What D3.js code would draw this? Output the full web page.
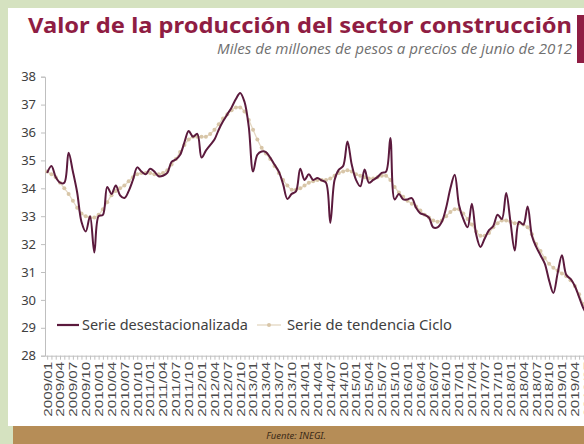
<!DOCTYPE html>
<html>
<head>
<meta charset="utf-8">
<script src="https://cdn.jsdelivr.net/npm/d3@7"></script>
<style>
  html, body { margin: 0; padding: 0; }
  body { width: 584px; height: 444px; overflow: hidden; background: #d5e2c0; }
  svg { display: block; font-family: "Noto Sans", "DejaVu Sans", sans-serif; }
</style>
</head>
<body>
<div id="chart"></div>
<script>
// ---- data (miles de millones de pesos, monthly from 2009/01) ----
const startYear = 2009;
const axisMonths = 130;   // months shown on the category axis (runs past the crop)

const serieDesest = [
  34.55, 34.8, 34.4, 34.2, 34.2, 35.27, 34.6, 33.85, 32.8, 32.45,
  33.0, 31.7, 33.0, 33.05, 34.05, 33.8, 34.1, 33.75, 33.65, 33.9,
  34.3, 34.75, 34.6, 34.5, 34.7, 34.6, 34.43, 34.45, 34.55, 34.95,
  35.03, 35.2, 35.65, 36.05, 35.85, 35.95, 35.1, 35.35, 35.55, 35.75,
  36.1, 36.4, 36.65, 36.9, 37.2, 37.42, 37.1, 36.2, 34.6, 35.2,
  35.32, 35.3, 35.1, 34.85, 34.6, 34.15, 33.62, 33.8, 33.89, 34.7,
  34.3, 34.5, 34.3, 34.37, 34.28, 34.2, 32.76, 34.3, 34.67, 34.8,
  35.68, 34.85, 34.3, 34.07, 34.67, 34.2, 34.3, 34.4, 34.55, 34.6,
  35.8, 33.6, 33.8, 33.6, 33.6, 33.65, 33.3, 33.1, 33.05, 32.95,
  32.6, 32.6, 32.8, 33.3, 34.0, 34.49, 33.4, 32.9, 32.6, 33.45,
  32.35, 31.9, 32.2, 32.5, 32.65, 33.05, 32.9, 33.83, 32.8, 31.77,
  32.8, 32.7, 33.35, 32.3, 31.9, 31.6, 31.3, 30.7, 30.25, 30.96,
  31.6, 30.9, 30.75, 30.5, 30.1, 29.7, 29.45
];

const serieTendencia = [
  34.6, 34.5, 34.4, 34.2, 34.0, 33.8, 33.55, 33.3, 33.1, 33.0,
  32.95, 32.95, 33.05, 33.25, 33.5, 33.75, 33.9, 34.0, 34.1, 34.25,
  34.4, 34.5, 34.55, 34.55, 34.55, 34.5, 34.5, 34.55, 34.65, 34.85,
  35.05, 35.3, 35.55, 35.75, 35.85, 35.85, 35.85, 35.85, 35.95, 36.1,
  36.3, 36.5, 36.65, 36.8, 36.9, 36.9, 36.75, 36.45, 36.1, 35.75,
  35.45, 35.25, 35.05, 34.8, 34.55, 34.3, 34.1, 33.95, 33.95, 34.0,
  34.1, 34.2, 34.25, 34.3, 34.3, 34.3, 34.35, 34.45, 34.55, 34.6,
  34.65, 34.6, 34.5, 34.45, 34.4, 34.35, 34.35, 34.4, 34.45, 34.45,
  34.3, 34.05, 33.85, 33.7, 33.55, 33.45, 33.35, 33.2, 33.05, 32.95,
  32.85, 32.8, 32.85, 33.0, 33.15, 33.25, 33.25, 33.1, 32.9, 32.7,
  32.45, 32.3, 32.3, 32.4, 32.6, 32.75, 32.85, 32.85, 32.8, 32.75,
  32.75, 32.7, 32.6, 32.35, 32.0, 31.75, 31.5, 31.3, 31.15, 31.05,
  30.95, 30.85, 30.7, 30.5, 30.2, 29.85, 29.55
];

const yTicks = [28, 29, 30, 31, 32, 33, 34, 35, 36, 37, 38];
const legendNames = ["Serie desestacionalizada", "Serie de tendencia Ciclo"];

const titleText = "Valor de la producción del sector construcción";
const subtitleText = "Miles de millones de pesos a precios de junio de 2012";
const sourceText = "Fuente: INEGI.";

// ---- setup ----
const width = 584, height = 444;
const colDark = "#5b1a3d";
const colTrend = "#d8c6a8";
const colTitle = "#8f1d43";

const monthLabel = i => {
  const y = startYear + Math.floor(i / 12);
  const m = (i % 12) + 1;
  return y + "/" + (m < 10 ? "0" + m : m);
};

const svg = d3.select("#chart").append("svg")
  .attr("width", width)
  .attr("height", height);

// panels
svg.append("rect").attr("x", 8).attr("y", 8).attr("width", width - 8).attr("height", 418)
  .attr("fill", "#ffffff");
svg.append("rect").attr("x", 13).attr("y", 426).attr("width", width - 13).attr("height", 18)
  .attr("fill", "#b68d57");
svg.append("text")
  .attr("x", 296).attr("y", 439)
  .attr("text-anchor", "middle")
  .style("font-size", "9.5px").style("font-style", "italic")
  .attr("fill", "#3b2a18")
  .text(sourceText);

// title block
svg.append("text")
  .attr("x", 28).attr("y", 33)
  .attr("textLength", 544).attr("lengthAdjust", "spacingAndGlyphs")
  .style("font-size", "21.5px").style("font-weight", "700")
  .attr("fill", colTitle)
  .text(titleText);

svg.append("text")
  .attr("x", 572).attr("y", 54)
  .attr("text-anchor", "end")
  .attr("textLength", 355).attr("lengthAdjust", "spacingAndGlyphs")
  .style("font-size", "14.5px").style("font-style", "italic")
  .style("font-family", "'Open Sans', sans-serif")
  .attr("fill", "#707070")
  .text(subtitleText);

svg.append("rect").attr("x", 577).attr("y", 15).attr("width", 8).attr("height", 48)
  .attr("fill", colTitle);

// scales
const step = 4.29;
const x = d3.scaleLinear()
  .domain([-0.5, axisMonths - 0.5])
  .range([45, 45 + step * axisMonths]);

const y = d3.scaleLinear()
  .domain([28, 38])
  .range([355.7, 76.7]);

// y axis
const yAxis = svg.append("g")
  .attr("transform", "translate(45,0)")
  .call(d3.axisLeft(y).tickValues(yTicks).tickSize(4).tickPadding(5));
yAxis.select(".domain").attr("stroke", "#bfbfbf");
yAxis.selectAll(".tick line").attr("stroke", "#bfbfbf");
yAxis.selectAll(".tick text")
  .style("font-size", "13px").attr("fill", "#404040")
  .style("font-family", "'Noto Sans', sans-serif");

// x axis: a tick every month, a label every quarter
const xAxis = svg.append("g")
  .attr("transform", "translate(0,355.7)")
  .call(d3.axisBottom(x)
    .tickValues(d3.range(axisMonths))
    .tickSize(4)
    .tickSizeOuter(0)
    .tickFormat(i => i % 3 === 0 ? monthLabel(i) : ""));
xAxis.select(".domain").attr("stroke", "#bfbfbf");
xAxis.selectAll(".tick line").attr("stroke", "#bfbfbf");
xAxis.selectAll(".tick text")
  .attr("text-anchor", "end")
  .attr("transform", "translate(0,6) rotate(-90)")
  .attr("x", 0).attr("y", 0).attr("dy", "0.35em")
  .style("font-size", "11px").attr("fill", "#4a4a4a")
  .each(function () {
    if (this.textContent) d3.select(this).attr("textLength", 55).attr("lengthAdjust", "spacingAndGlyphs");
  });

// lines
const line = d3.line()
  .x((d, i) => x(i))
  .y(d => y(d))
  .curve(d3.curveCatmullRom);

svg.append("path")
  .datum(serieTendencia)
  .attr("d", line)
  .attr("fill", "none")
  .attr("stroke", "#e4d7c2")
  .attr("stroke-width", 1.3);

svg.append("g").selectAll("circle")
  .data(serieTendencia)
  .join("circle")
  .attr("cx", (d, i) => x(i))
  .attr("cy", d => y(d))
  .attr("r", 2)
  .attr("fill", colTrend);

svg.append("path")
  .datum(serieDesest)
  .attr("d", line)
  .attr("fill", "none")
  .attr("stroke", colDark)
  .attr("stroke-width", 2)
  .attr("stroke-linejoin", "round");

// legend
const legend = svg.append("g");
legend.append("line").attr("x1", 57).attr("x2", 79).attr("y1", 325).attr("y2", 325)
  .attr("stroke", colDark).attr("stroke-width", 2.2);
legend.append("text").attr("x", 82).attr("y", 330)
  .attr("textLength", 166).attr("lengthAdjust", "spacingAndGlyphs")
  .style("font-size", "15px").attr("fill", "#404040")
  .text(legendNames[0]);

legend.append("line").attr("x1", 257).attr("x2", 281).attr("y1", 325).attr("y2", 325)
  .attr("stroke", "#e4d7c2").attr("stroke-width", 1.3);
legend.append("circle").attr("cx", 269).attr("cy", 325).attr("r", 2).attr("fill", colTrend);
legend.append("text").attr("x", 287).attr("y", 330)
  .attr("textLength", 165).attr("lengthAdjust", "spacingAndGlyphs")
  .style("font-size", "15px").attr("fill", "#404040")
  .text(legendNames[1]);
</script>
</body>
</html>
